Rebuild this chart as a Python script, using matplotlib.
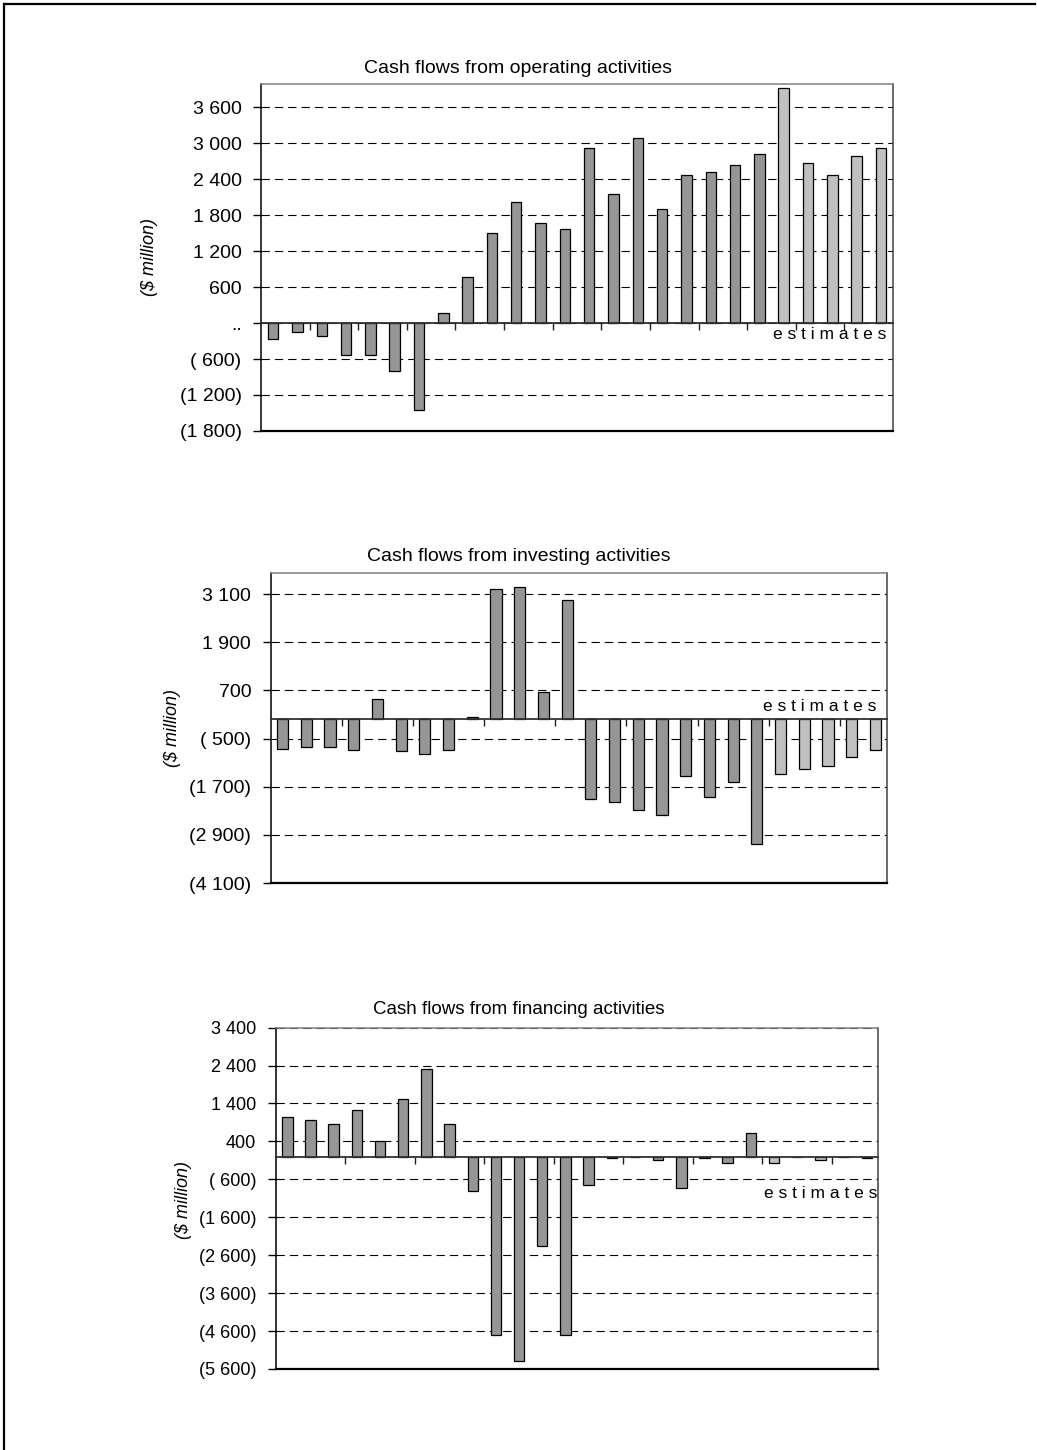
import matplotlib.pyplot as plt
import numpy as np
from matplotlib.lines import Line2D

plt.rcParams['font.family'] = ['Liberation Sans', 'DejaVu Sans']

# values in $ million, 26 periods, last 5 are estimates
operating = [-267, -150, -222, -533, -533, -800, -1456, 167, 772, 1500, 2028, 1667, 1567,
             2928, 2150, 3094, 1911, 2467, 2517, 2633, 2828, 3917, 2678, 2467, 2783, 2928]
investing = [-750, -717, -717, -783, 483, -817, -883, -783, 30, 3233, 3267, 650, 2950,
             -2000, -2075, -2292, -2392, -1425, -1967, -1583, -3133, -1392, -1258, -1192, -967, -775]
financing = [1044, 965, 851, 1237, 421, 1518, 2315, 851, -903, -4710, -5385, -2368, -4700,
             -737, -44, 0, -79, -816, -44, -158, 623, -158, 0, -79, 0, -44]
n_actual = 21

titles = ['Cash flows from operating activities',
          'Cash flows from investing activities',
          'Cash flows from financing activities']
yticks = [np.arange(-1800, 3601, 600), np.arange(-4100, 3101, 1200), np.arange(-5600, 3401, 1000)]
ylims = [(-1800, 3990), (-4100, 3625), (-5600, 3400)]
tick_every = [2, 3, 3]

dark = '#969696'
light = '#c0c0c0'


def fmt(v):
    v = int(v)
    if v == 0:
        return '..'
    s = f"{abs(v):,}".replace(',', ' ')
    if v < 0:
        if abs(v) < 1000:
            s = ' ' + s
        return '(' + s + ')'
    return s


fig = plt.figure(figsize=(10.37, 14.5), dpi=100)

# page frame (top and left edges)
fig.add_artist(Line2D([0.0039, 0.998], [0.9972, 0.9972], color='black', lw=1.6, transform=fig.transFigure))
fig.add_artist(Line2D([0.0039, 0.0039], [0.0, 0.9972], color='black', lw=1.6, transform=fig.transFigure))

rects = [[0.2517, 0.7028, 0.6095, 0.2393],
         [0.2610, 0.3910, 0.5946, 0.2138],
         [0.2659, 0.0559, 0.5811, 0.2354]]
widths = [0.43, 0.47, 0.45]
title_y = [0.953, 0.616, 0.304]
title_size = [14, 14, 13.5]
ylab_pos = [(0.1446, 0.8228), (0.1668, 0.4979), (0.1765, 0.1724)]
est_pos = [(0.989, 0.277), (0.982, 0.571), (0.998, 0.513)]
tick_size = [14, 14, 13]

series = [operating, investing, financing]
for k in range(3):
    ax = fig.add_axes(rects[k])
    vals = series[k]
    x = np.arange(len(vals))
    colors = [dark if i < n_actual else light for i in range(len(vals))]
    ax.bar(x, vals, width=widths[k], color=colors, edgecolor='black', linewidth=0.9, zorder=2)

    ax.set_xlim(-0.5, len(vals) - 0.5)
    ax.set_ylim(*ylims[k])
    ax.set_yticks(yticks[k])
    ax.set_yticklabels([fmt(v) for v in yticks[k]])
    ax.tick_params(axis='y', direction='out', length=6, width=1, pad=8,
                   labelsize=tick_size[k], colors='black')

    # x ticks at category boundaries on the zero line
    step = tick_every[k]
    ax.set_xticks(np.arange(step - 0.5, len(vals) - 1, step))
    ax.tick_params(axis='x', direction='out', length=5, width=1, labelbottom=False, color='#202020')

    ax.yaxis.grid(True, color='black', lw=0.8, linestyle=(0, (7.5, 4.5)))
    ax.set_axisbelow(True)

    ax.spines['bottom'].set_position(('data', 0))
    ax.spines['bottom'].set_color('#303030')
    ax.spines['bottom'].set_linewidth(1.3)
    ax.spines['bottom'].set_zorder(3)
    ax.spines['left'].set_color('black')
    ax.spines['left'].set_linewidth(1.1)
    ax.spines['top'].set_color('#808080')
    ax.spines['right'].set_color('#404040')
    ax.spines['top'].set_linewidth(1.1)
    ax.spines['right'].set_linewidth(1.1)
    ax.axhline(ylims[k][0], color='black', lw=1.6, clip_on=False, zorder=3)

    ax.text(est_pos[k][0], est_pos[k][1], 'e s t i m a t e s', transform=ax.transAxes,
            ha='right', va='center', fontsize=12.5)

    fig.text(0.5, title_y[k], titles[k], ha='center', va='center', fontsize=title_size[k])
    fig.text(ylab_pos[k][0], ylab_pos[k][1], '($ million)', rotation=90, ha='center',
             va='center', fontsize=13, style='italic')

fig.savefig('out.png', dpi=100, facecolor='white')
